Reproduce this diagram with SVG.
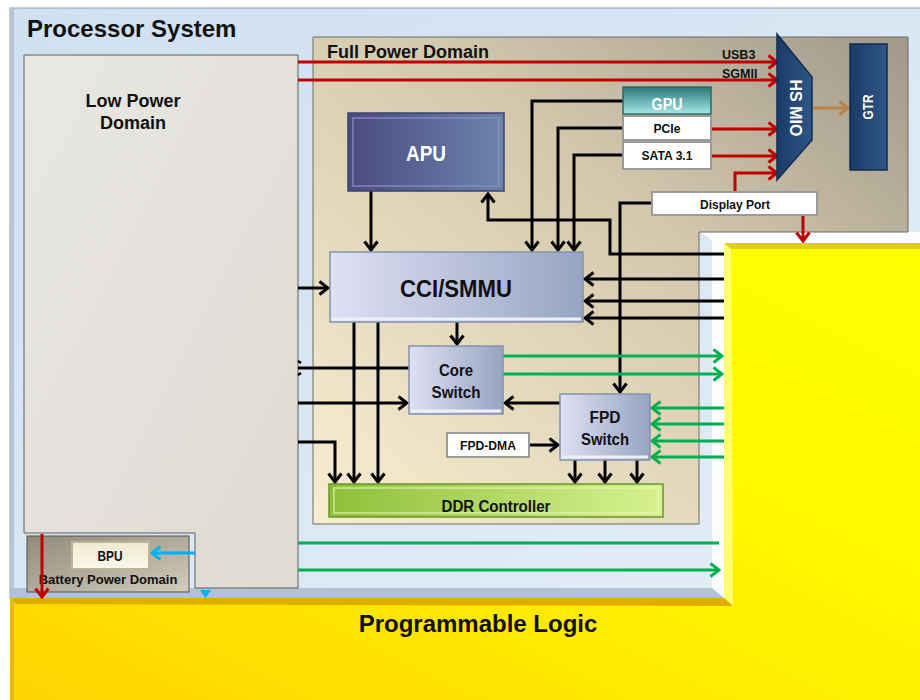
<svg xmlns="http://www.w3.org/2000/svg" width="920" height="700" viewBox="0 0 920 700">
<style>
text{font-family:"Liberation Sans",Arial,sans-serif;font-weight:bold;fill:#111}
.w{fill:#fff}
.c{text-anchor:middle}
.blk{fill:none;stroke:#000;stroke-width:3}
.red{fill:none;stroke:#c00000;stroke-width:3}
.grn{fill:none;stroke:#00b050;stroke-width:3}
.blu{fill:none;stroke:#00b0f0;stroke-width:3}
.brn{fill:none;stroke:#b8804c;stroke-width:3}
.wbox{fill:#fff;stroke:#9a9a9a;stroke-width:2}
</style>
<defs>
<linearGradient id="gPS" x1="0" y1="0" x2="1" y2="1"><stop offset="0" stop-color="#cfe0f1"/><stop offset="1" stop-color="#e3edf7"/></linearGradient>
<linearGradient id="gPL" x1="1" y1="0" x2="0" y2="1"><stop offset="0" stop-color="#ffff00"/><stop offset="0.4" stop-color="#fff700"/><stop offset="1" stop-color="#ffd400"/></linearGradient>
<linearGradient id="gFPD" x1="1" y1="0" x2="0" y2="1"><stop offset="0" stop-color="#a0988a"/><stop offset="0.4" stop-color="#d3c8ad"/><stop offset="1" stop-color="#f8eecf"/></linearGradient>
<linearGradient id="gLPD" x1="0" y1="0" x2="1" y2="1"><stop offset="0" stop-color="#e9e7e2"/><stop offset="1" stop-color="#dedbd4"/></linearGradient>
<linearGradient id="gBPD" x1="0" y1="0" x2="1" y2="1"><stop offset="0" stop-color="#918b7b"/><stop offset="1" stop-color="#d2ccbb"/></linearGradient>
<linearGradient id="gAPU" x1="0" y1="0" x2="1" y2="0"><stop offset="0" stop-color="#4a4a80"/><stop offset="1" stop-color="#6c83ab"/></linearGradient>
<linearGradient id="gCCI" x1="0" y1="0" x2="1" y2="0"><stop offset="0" stop-color="#dfe0f3"/><stop offset="1" stop-color="#96a5c2"/></linearGradient>
<linearGradient id="gDDR" x1="0" y1="0" x2="1" y2="0"><stop offset="0" stop-color="#8ebf3a"/><stop offset="1" stop-color="#d6f290"/></linearGradient>
<linearGradient id="gGPU" x1="0" y1="0" x2="0" y2="1"><stop offset="0" stop-color="#2a7778"/><stop offset="1" stop-color="#a6e8e8"/></linearGradient>
<linearGradient id="gNavy" x1="0" y1="0" x2="1" y2="0"><stop offset="0" stop-color="#1b3a66"/><stop offset="1" stop-color="#2f5788"/></linearGradient>
<linearGradient id="gBPU" x1="0" y1="0" x2="0" y2="1"><stop offset="0" stop-color="#f0ead0"/><stop offset="1" stop-color="#fbf8ea"/></linearGradient>
<marker id="mK" viewBox="0 0 12 16" refX="10" refY="8" markerWidth="12" markerHeight="16" markerUnits="userSpaceOnUse" orient="auto"><path d="M1.5,1.5 L10,8 L1.5,14.5" fill="none" stroke="#000" stroke-width="3"/></marker>
<marker id="mR" viewBox="0 0 12 16" refX="10" refY="8" markerWidth="12" markerHeight="16" markerUnits="userSpaceOnUse" orient="auto"><path d="M1.5,1.5 L10,8 L1.5,14.5" fill="none" stroke="#c00000" stroke-width="3"/></marker>
<marker id="mG" viewBox="0 0 12 16" refX="10" refY="8" markerWidth="12" markerHeight="16" markerUnits="userSpaceOnUse" orient="auto"><path d="M1.5,1.5 L10,8 L1.5,14.5" fill="none" stroke="#00b050" stroke-width="3"/></marker>
<marker id="mB" viewBox="0 0 12 16" refX="10" refY="8" markerWidth="12" markerHeight="16" markerUnits="userSpaceOnUse" orient="auto"><path d="M1.5,1.5 L10,8 L1.5,14.5" fill="none" stroke="#00b0f0" stroke-width="3"/></marker>
<marker id="mO" viewBox="0 0 12 16" refX="10" refY="8" markerWidth="12" markerHeight="16" markerUnits="userSpaceOnUse" orient="auto"><path d="M1.5,1.5 L10,8 L1.5,14.5" fill="none" stroke="#b8804c" stroke-width="3"/></marker>
</defs>

<rect width="920" height="700" fill="#ffffff"/>

<g id="processor-system">
<rect x="10" y="8" width="912" height="590" fill="url(#gPS)" stroke="#8d9cac" stroke-width="1"/>
<rect x="10" y="8" width="4" height="590" fill="#b7c6d6"/>
<polygon points="10,588 724,588 724,598 10,598" fill="#b3c2d2"/>
<polygon points="700,232 920,232 920,243 724,243 724,598 712,588 712,240" fill="#ffffff" opacity="0.9"/>
<text x="27" y="37" font-size="24">Processor System</text>
</g>

<g id="programmable-logic">
<polygon points="724,243 920,243 920,700 10,700 10,598 724,598" fill="url(#gPL)"/>
<polygon points="724,243 920,243 920,249 731,249" fill="#e2cf00"/>
<polygon points="724,243 731,249 733,606 724,598" fill="#ffff70"/>
<polygon points="10,598 724,598 733,606 16,604" fill="#e0ac00"/>
<rect x="10" y="598" width="4" height="102" fill="#e8b800"/>
<text x="478" y="632" font-size="24" class="c">Programmable Logic</text>
</g>

<g id="full-power-domain">
<polygon points="313,37 908,37 908,232 699,232 699,524 313,524" fill="url(#gFPD)" stroke="#6f6a60" stroke-width="1"/>
<text x="327" y="58" font-size="18">Full Power Domain</text>
</g>

<g id="low-power-domain">
<polygon points="24,55 298,55 298,588 195,588 195,533 24,533" fill="url(#gLPD)" stroke="#5f5f5f" stroke-width="1"/>
<text x="133" y="107" font-size="18" class="c">Low Power</text>
<text x="133" y="129" font-size="18" class="c">Domain</text>
</g>

<g id="battery-power-domain">
<rect x="27" y="536" width="162" height="56" fill="url(#gBPD)" stroke="#4f4f4f" stroke-width="1"/>
<text x="108" y="584" font-size="13" class="c">Battery Power Domain</text>
</g>

<g id="connectors">
<path class="red" d="M298,62 H777" marker-end="url(#mR)"/>
<path class="red" d="M298,80 H777" marker-end="url(#mR)"/>
<path class="red" d="M711,129 H777" marker-end="url(#mR)"/>
<path class="red" d="M711,156 H777" marker-end="url(#mR)"/>
<path class="red" d="M735,192 V173 H777" marker-end="url(#mR)"/>
<path class="red" d="M803,215 V241" marker-end="url(#mR)"/>
<path class="red" d="M42,534 V597" marker-end="url(#mR)"/>
<path class="brn" d="M812,108 H848" marker-end="url(#mO)"/>

<path class="blk" d="M623,101 H532 V250" marker-end="url(#mK)"/>
<path class="blk" d="M623,128 H558 V250" marker-end="url(#mK)"/>
<path class="blk" d="M623,155 H574 V250" marker-end="url(#mK)"/>
<path class="blk" d="M371,191 V250" marker-end="url(#mK)"/>
<path class="blk" d="M724,254 H610 V220 H488 V194" marker-end="url(#mK)"/>
<path class="blk" d="M652,203 H620 V392" marker-end="url(#mK)"/>
<path class="blk" d="M724,279 H585" marker-end="url(#mK)"/>
<path class="blk" d="M724,301 H585" marker-end="url(#mK)"/>
<path class="blk" d="M724,318 H585" marker-end="url(#mK)"/>
<path class="blk" d="M298,288 H328" marker-end="url(#mK)"/>
<path class="blk" d="M457,322 V344" marker-end="url(#mK)"/>
<path class="blk" d="M354,322 V482" marker-end="url(#mK)"/>
<path class="blk" d="M378,322 V482" marker-end="url(#mK)"/>
<path class="blk" d="M409,368 H298"/>
<path d="M298,361 L301,363 M298,375 L301,373" fill="none" stroke="#000" stroke-width="2.5"/>
<path class="blk" d="M298,403 H407" marker-end="url(#mK)"/>
<path class="blk" d="M298,442 H335 V482" marker-end="url(#mK)"/>
<path class="blk" d="M560,403 H505" marker-end="url(#mK)"/>
<path class="blk" d="M529,445 H558" marker-end="url(#mK)"/>
<path class="blk" d="M575,460 V482" marker-end="url(#mK)"/>
<path class="blk" d="M605,460 V482" marker-end="url(#mK)"/>
<path class="blk" d="M637,460 V482" marker-end="url(#mK)"/>

<path class="grn" d="M503,356 H722" marker-end="url(#mG)"/>
<path class="grn" d="M503,374 H722" marker-end="url(#mG)"/>
<path class="grn" d="M724,408 H652" marker-end="url(#mG)"/>
<path class="grn" d="M724,424 H652" marker-end="url(#mG)"/>
<path class="grn" d="M724,441 H652" marker-end="url(#mG)"/>
<path class="grn" d="M724,457 H652" marker-end="url(#mG)"/>
<path class="grn" d="M298,543 H719"/>
<path class="grn" d="M298,570 H719" marker-end="url(#mG)"/>

<path class="blu" d="M195,553 H152" marker-end="url(#mB)"/>
<polygon points="200,590 211,590 205.5,598" fill="#00b0f0"/>
<text x="722" y="59" font-size="12.5">USB3</text>
<text x="722" y="78" font-size="12.5">SGMII</text>
</g>

<g id="bpu">
<rect x="72" y="542" width="77" height="27" fill="url(#gBPU)" stroke="#bdb596" stroke-width="2"/>
<text x="110" y="561" font-size="15" class="c" textLength="25" lengthAdjust="spacingAndGlyphs">BPU</text>
</g>

<g id="apu">
<rect x="348" y="113" width="156" height="78" fill="url(#gAPU)" stroke="#3d4270" stroke-width="1.5"/>
<rect x="353" y="118" width="146" height="68" fill="none" stroke="#8a93c4" stroke-width="2" opacity="0.6"/>
<text x="426" y="161" font-size="22" class="c w" textLength="40" lengthAdjust="spacingAndGlyphs">APU</text>
</g>

<g id="cci-smmu">
<rect x="330" y="252" width="253" height="70" fill="url(#gCCI)" stroke="#8591ad" stroke-width="1.5"/>
<path d="M332,319 H581" stroke="#eef0fa" stroke-width="3"/>
<text x="456" y="297" font-size="24" class="c" textLength="112" lengthAdjust="spacingAndGlyphs">CCI/SMMU</text>
</g>

<g id="core-switch">
<rect x="409" y="346" width="94" height="68" fill="url(#gCCI)" stroke="#8591ad" stroke-width="1.5"/>
<path d="M411,411 H501" stroke="#eef0fa" stroke-width="3"/>
<text x="456" y="376" font-size="16" class="c" textLength="34" lengthAdjust="spacingAndGlyphs">Core</text>
<text x="456" y="398" font-size="16" class="c" textLength="49" lengthAdjust="spacingAndGlyphs">Switch</text>
</g>

<g id="fpd-switch">
<rect x="560" y="394" width="90" height="66" fill="url(#gCCI)" stroke="#8591ad" stroke-width="1.5"/>
<path d="M562,457 H648" stroke="#eef0fa" stroke-width="3"/>
<text x="605" y="423" font-size="16" class="c" textLength="31" lengthAdjust="spacingAndGlyphs">FPD</text>
<text x="605" y="445" font-size="16" class="c" textLength="48" lengthAdjust="spacingAndGlyphs">Switch</text>
</g>

<g id="fpd-dma">
<rect x="447" y="433" width="82" height="24" class="wbox"/>
<text x="488" y="450" font-size="13" class="c" textLength="56" lengthAdjust="spacingAndGlyphs">FPD-DMA</text>
</g>

<g id="ddr-controller">
<rect x="329" y="484" width="334" height="33" fill="url(#gDDR)" stroke="#6a9428" stroke-width="1.5"/>
<rect x="334" y="488" width="324" height="25" fill="none" stroke="#e8fbb8" stroke-width="1.5" opacity="0.7"/>
<text x="496" y="512" font-size="16" class="c" textLength="109" lengthAdjust="spacingAndGlyphs">DDR Controller</text>
</g>

<g id="gpu">
<rect x="623" y="87" width="88" height="27" fill="url(#gGPU)" stroke="#2a6a6a" stroke-width="1.5"/>
<text x="667" y="110" font-size="16" class="c w" textLength="31" lengthAdjust="spacingAndGlyphs">GPU</text>
</g>

<g id="pcie">
<rect x="623" y="116" width="88" height="24" class="wbox"/>
<text x="667" y="133" font-size="13" class="c" textLength="27" lengthAdjust="spacingAndGlyphs">PCIe</text>
</g>

<g id="sata">
<rect x="623" y="142" width="88" height="27" class="wbox"/>
<text x="667" y="160" font-size="13" class="c" textLength="51" lengthAdjust="spacingAndGlyphs">SATA 3.1</text>
</g>

<g id="display-port">
<rect x="652" y="192" width="165" height="23" class="wbox"/>
<text x="735" y="209" font-size="13" class="c" textLength="70" lengthAdjust="spacingAndGlyphs">Display Port</text>
</g>

<g id="hs-mio">
<polygon points="777,34 812,77 812,140 777,180" fill="url(#gNavy)" stroke="#122c50" stroke-width="1.5"/>
<text transform="translate(795,108) rotate(90)" font-size="17" class="c w" dominant-baseline="central" textLength="57" lengthAdjust="spacingAndGlyphs">HS MIO</text>
</g>

<g id="gtr">
<rect x="850" y="44" width="37" height="126" fill="url(#gNavy)" stroke="#122c50" stroke-width="1.5"/>
<text transform="translate(868,107) rotate(-90)" font-size="14" class="c w" dominant-baseline="central" textLength="25" lengthAdjust="spacingAndGlyphs">GTR</text>
</g>
</svg>
